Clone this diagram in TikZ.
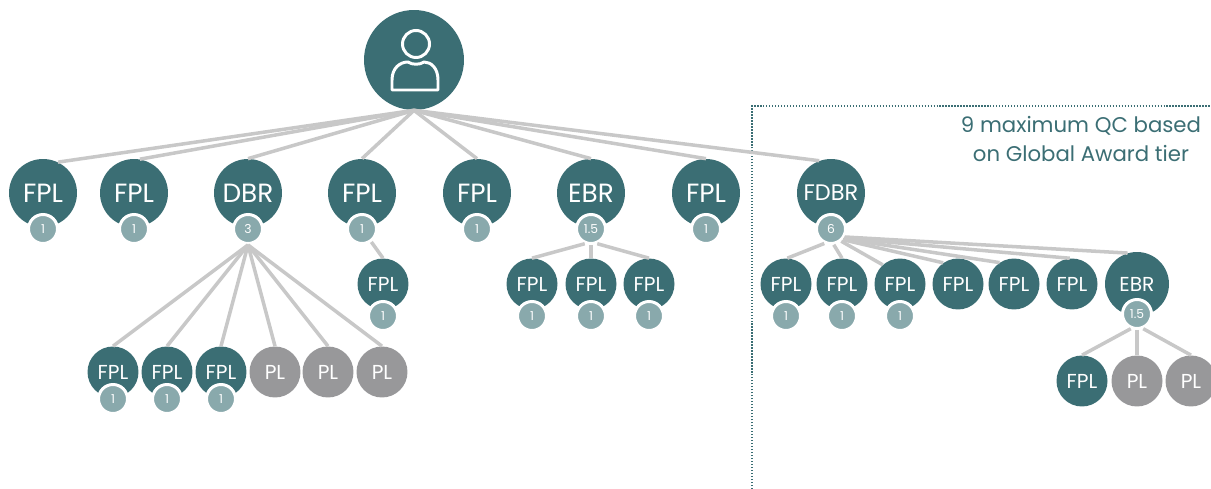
\documentclass[tikz,border=0pt]{standalone}
\usepackage{fontspec}
\setmainfont{Poppins}
\definecolor{tealfill}{HTML}{3B6E74}
\definecolor{badgefill}{HTML}{89A9AC}
\definecolor{plfill}{HTML}{98989A}
\definecolor{linkgrey}{HTML}{C8C8C8}
\tikzset{big/.style={circle,fill=tealfill,text=white,inner sep=0pt,minimum size=1.36cm,font=\fontsize{15}{18}\selectfont}}
\tikzset{small/.style={circle,fill=tealfill,text=white,inner sep=0pt,minimum size=1.02cm,font=\fontsize{11.5}{14}\selectfont}}
\tikzset{pl/.style={small,fill=plfill}}
\tikzset{badge/.style={circle,fill=badgefill,draw=white,line width=1.7pt,text=white,inner sep=0pt,minimum size=0.58cm,font=\fontsize{7}{8}\selectfont}}
\tikzset{link/.style={draw=linkgrey,line width=2pt}}

\begin{document}
\begin{tikzpicture}[x=0.02cm,y=-0.02cm]
\useasboundingbox (0,0) rectangle (1211,489);

% region on the right
\coordinate (ra) at (752,489);
\coordinate (rb) at (752,106);
\coordinate (rc) at (1211,106);
\draw[tealfill,line width=0.7pt,densely dotted] (ra) -- (rb) -- (rc);
\node[text=tealfill,align=center,font=\fontsize{12.1}{17}\selectfont] (note) at (1081,139) {9 maximum QC based\\on Global Award tier};

\node[circle,fill=tealfill,inner sep=0pt,minimum size=2cm] (root) at (414,60) {};
\draw[white,line width=1.7pt] (416,44) circle (13.5);
\draw[white,line width=1.7pt,line join=round] (392,90) -- (392,80) .. controls (392,68) and (400,62) .. (408,62) .. controls (412,65) and (420,65) .. (424,62) .. controls (431,62) and (438,68) .. (438,80) -- (438,90) -- cycle;

% first row
\node[big] (fa) at (43,193) {FPL};
\node[big] (fb) at (134,193) {FPL};
\node[big] (db) at (248,193) {DBR};
\node[big] (fc) at (362,193) {FPL};
\node[big] (fd) at (477,193) {FPL};
\node[big] (eb) at (591,193) {EBR};
\node[big] (fe) at (706,193) {FPL};
\node[big,font=\fontsize{12.8}{16}\selectfont] (fdb) at (831,193) {FDBR};
\node[badge] (fan) at (43,229) {1};
\node[badge] (fbn) at (134,229) {1};
\node[badge] (dbn) at (248,229) {3};
\node[badge] (fcn) at (362,229) {1};
\node[badge] (fdn) at (477,229) {1};
\node[badge] (ebn) at (591,229) {1.5};
\node[badge] (fen) at (706,229) {1};
\node[badge] (fdbn) at (831,229) {6};

% under DBR
\node[small] (da) at (113,372) {FPL};
\node[small] (db2) at (167,372) {FPL};
\node[small] (dc) at (221,372) {FPL};
\node[pl] (dd) at (275,372) {PL};
\node[pl] (de) at (328,372) {PL};
\node[pl] (df) at (382,372) {PL};
\node[badge] (dan) at (113,399) {1};
\node[badge] (dbn2) at (167,399) {1};
\node[badge] (dcn) at (221,399) {1};

% under FPL
\node[small] (ca) at (383,284) {FPL};
\node[badge] (can) at (383,316) {1};

% under EBR
\node[small] (ea) at (532,284) {FPL};
\node[small] (eb2) at (591,284) {FPL};
\node[small] (ec) at (649,284) {FPL};
\node[badge] (ean) at (532,316) {1};
\node[badge] (ebn2) at (591,316) {1};
\node[badge] (ecn) at (649,316) {1};

% under FDBR
\node[small] (ga) at (786,284) {FPL};
\node[small] (gb) at (842,284) {FPL};
\node[small] (gc) at (900,284) {FPL};
\node[small] (gd) at (958,284) {FPL};
\node[small] (ge) at (1014,284) {FPL};
\node[small] (gf) at (1072,284) {FPL};
\node[big,minimum size=1.28cm,font=\fontsize{11.5}{14}\selectfont] (gg) at (1137,284) {EBR};
\node[badge] (gan) at (786,316) {1};
\node[badge] (gbn) at (842,316) {1};
\node[badge] (gcn) at (900,316) {1};
\node[badge] (ggn) at (1137,314) {1.5};
\node[small] (ha) at (1082,381) {FPL};
\node[pl] (hb) at (1137,381) {PL};
\node[pl] (hc) at (1191,381) {PL};

\draw[link] (root.south) -- (fa.64);
\draw[link] (root.south) -- (fb.80);
\draw[link] (root.south) -- (db.north);
\draw[link] (root.south) -- (fc.north);
\draw[link] (root.south) -- (fd.north);
\draw[link] (root.south) -- (eb.north);
\draw[link] (root.south) -- (fe.north);
\draw[link] (root.south) -- (fdb.110);

\draw[link] (dbn.south) -- (da.north);
\draw[link] (dbn.south) -- (db2.north);
\draw[link] (dbn.south) -- (dc.north);
\draw[link] (dbn.south) -- (dd.north);
\draw[link] (dbn.south) -- (de.north);
\draw[link] (dbn.south) -- (df.north);
\draw[link] (fcn) -- (ca.north);
\draw[link] (ebn.-113) -- (ea.north);
\draw[link] (ebn.south) -- (eb2.north);
\draw[link] (ebn.-67) -- (ec.north);
\draw[link] (fdbn.-115) -- (ga.87);
\draw[link] (fdbn.-80) -- (gb.north);
\draw[link] (fdbn.-50) -- (gc.132);
\draw[link] (fdbn.-42) -- (gd.125);
\draw[link] (fdbn.-38) -- (ge.124);
\draw[link] (fdbn.-35) -- (gf.95);
\draw[link] (fdbn.-30) -- (gg.107);
\draw[link] (ggn.-113) -- (ha.north);
\draw[link] (ggn.south) -- (hb.north);
\draw[link] (ggn.-67) -- (hc.north);
\end{tikzpicture}
\end{document}
